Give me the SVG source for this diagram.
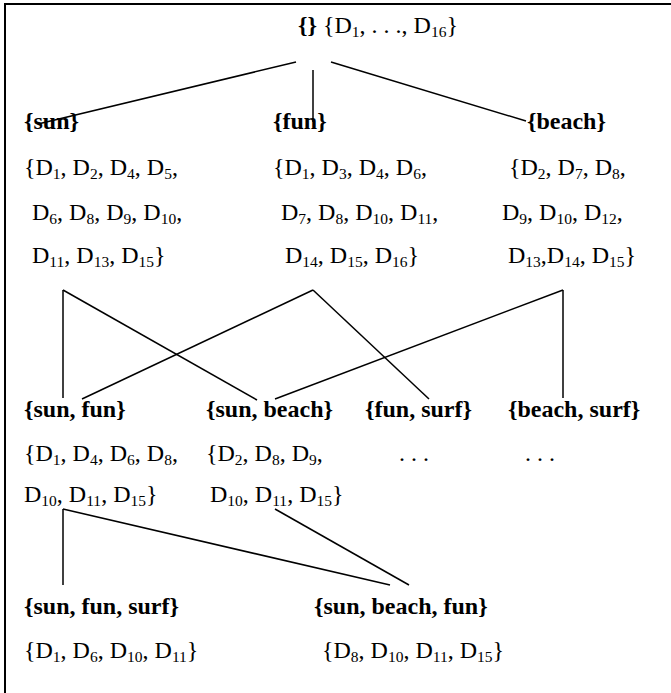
<svg xmlns="http://www.w3.org/2000/svg" width="671" height="693" viewBox="0 0 671 693">
<style>
text{font-family:"Liberation Serif","Times New Roman","DejaVu Serif",serif;font-size:24px;fill:#000}
.b{font-weight:bold}
.s{font-size:15.5px}
line{stroke:#000;stroke-width:1.5}
</style>
<rect width="671" height="693" fill="#fff"/>
<path d="M5,693 V4 H671" fill="none" stroke="#000" stroke-width="2"/>
<g id="connectors">
<line x1="296" y1="62" x2="38" y2="124"/>
<line x1="313" y1="70" x2="313" y2="122"/>
<line x1="331" y1="62" x2="526" y2="121"/>
<line x1="63" y1="290" x2="63" y2="398"/>
<line x1="63" y1="290" x2="257" y2="400"/>
<line x1="313" y1="290" x2="82" y2="399"/>
<line x1="313" y1="290" x2="429" y2="399"/>
<line x1="563" y1="290" x2="275" y2="399"/>
<line x1="563" y1="290" x2="563" y2="398"/>
<line x1="63" y1="509" x2="63" y2="585"/>
<line x1="63" y1="509" x2="390" y2="585"/>
<line x1="275" y1="509" x2="409" y2="585"/>
</g>
<g id="root"><text x="298" y="33"><tspan class="b">{}</tspan> {D<tspan class="s" dy="4">1</tspan><tspan dy="-4">, . . ., D</tspan><tspan class="s" dy="4">16</tspan><tspan dy="-4">}</tspan></text></g>
<g id="sun">
<text class="b" x="24" y="129">{sun}</text>
<text x="24" y="175">{D<tspan class="s" dy="4">1</tspan><tspan dy="-4">, D</tspan><tspan class="s" dy="4">2</tspan><tspan dy="-4">, D</tspan><tspan class="s" dy="4">4</tspan><tspan dy="-4">, D</tspan><tspan class="s" dy="4">5</tspan><tspan dy="-4">,</tspan></text>
<text x="32" y="220">D<tspan class="s" dy="4">6</tspan><tspan dy="-4">, D</tspan><tspan class="s" dy="4">8</tspan><tspan dy="-4">, D</tspan><tspan class="s" dy="4">9</tspan><tspan dy="-4">, D</tspan><tspan class="s" dy="4">10</tspan><tspan dy="-4">,</tspan></text>
<text x="32" y="263">D<tspan class="s" dy="4">11</tspan><tspan dy="-4">, D</tspan><tspan class="s" dy="4">13</tspan><tspan dy="-4">, D</tspan><tspan class="s" dy="4">15</tspan><tspan dy="-4">}</tspan></text>
</g>
<g id="fun">
<text class="b" x="273" y="129">{fun}</text>
<text x="273" y="175">{D<tspan class="s" dy="4">1</tspan><tspan dy="-4">, D</tspan><tspan class="s" dy="4">3</tspan><tspan dy="-4">, D</tspan><tspan class="s" dy="4">4</tspan><tspan dy="-4">, D</tspan><tspan class="s" dy="4">6</tspan><tspan dy="-4">,</tspan></text>
<text x="281" y="220">D<tspan class="s" dy="4">7</tspan><tspan dy="-4">, D</tspan><tspan class="s" dy="4">8</tspan><tspan dy="-4">, D</tspan><tspan class="s" dy="4">10</tspan><tspan dy="-4">, D</tspan><tspan class="s" dy="4">11</tspan><tspan dy="-4">,</tspan></text>
<text x="285" y="263">D<tspan class="s" dy="4">14</tspan><tspan dy="-4">, D</tspan><tspan class="s" dy="4">15</tspan><tspan dy="-4">, D</tspan><tspan class="s" dy="4">16</tspan><tspan dy="-4">}</tspan></text>
</g>
<g id="beach">
<text class="b" x="527" y="129">{beach}</text>
<text x="509" y="175">{D<tspan class="s" dy="4">2</tspan><tspan dy="-4">, D</tspan><tspan class="s" dy="4">7</tspan><tspan dy="-4">, D</tspan><tspan class="s" dy="4">8</tspan><tspan dy="-4">,</tspan></text>
<text x="502" y="220">D<tspan class="s" dy="4">9</tspan><tspan dy="-4">, D</tspan><tspan class="s" dy="4">10</tspan><tspan dy="-4">, D</tspan><tspan class="s" dy="4">12</tspan><tspan dy="-4">,</tspan></text>
<text x="508" y="263">D<tspan class="s" dy="4">13</tspan><tspan dy="-4">,D</tspan><tspan class="s" dy="4">14</tspan><tspan dy="-4">, D</tspan><tspan class="s" dy="4">15</tspan><tspan dy="-4">}</tspan></text>
</g>
<g id="sun-fun">
<text class="b" x="24" y="417">{sun, fun}</text>
<text x="24" y="461">{D<tspan class="s" dy="4">1</tspan><tspan dy="-4">, D</tspan><tspan class="s" dy="4">4</tspan><tspan dy="-4">, D</tspan><tspan class="s" dy="4">6</tspan><tspan dy="-4">, D</tspan><tspan class="s" dy="4">8</tspan><tspan dy="-4">,</tspan></text>
<text x="24" y="502">D<tspan class="s" dy="4">10</tspan><tspan dy="-4">, D</tspan><tspan class="s" dy="4">11</tspan><tspan dy="-4">, D</tspan><tspan class="s" dy="4">15</tspan><tspan dy="-4">}</tspan></text>
</g>
<g id="sun-beach">
<text class="b" x="206" y="417">{sun, beach}</text>
<text x="206" y="461">{D<tspan class="s" dy="4">2</tspan><tspan dy="-4">, D</tspan><tspan class="s" dy="4">8</tspan><tspan dy="-4">, D</tspan><tspan class="s" dy="4">9</tspan><tspan dy="-4">,</tspan></text>
<text x="210" y="502">D<tspan class="s" dy="4">10</tspan><tspan dy="-4">, D</tspan><tspan class="s" dy="4">11</tspan><tspan dy="-4">, D</tspan><tspan class="s" dy="4">15</tspan><tspan dy="-4">}</tspan></text>
</g>
<g id="fun-surf">
<text class="b" x="365" y="417">{fun, surf}</text>
<text x="399" y="461">. . .</text>
</g>
<g id="beach-surf">
<text class="b" x="508" y="417">{beach, surf}</text>
<text x="525" y="461">. . .</text>
</g>
<g id="sun-fun-surf">
<text class="b" x="24" y="614">{sun, fun, surf}</text>
<text x="24" y="658">{D<tspan class="s" dy="4">1</tspan><tspan dy="-4">, D</tspan><tspan class="s" dy="4">6</tspan><tspan dy="-4">, D</tspan><tspan class="s" dy="4">10</tspan><tspan dy="-4">, D</tspan><tspan class="s" dy="4">11</tspan><tspan dy="-4">}</tspan></text>
</g>
<g id="sun-beach-fun">
<text class="b" x="314" y="614">{sun, beach, fun}</text>
<text x="322" y="658">{D<tspan class="s" dy="4">8</tspan><tspan dy="-4">, D</tspan><tspan class="s" dy="4">10</tspan><tspan dy="-4">, D</tspan><tspan class="s" dy="4">11</tspan><tspan dy="-4">, D</tspan><tspan class="s" dy="4">15</tspan><tspan dy="-4">}</tspan></text>
</g>
</svg>
